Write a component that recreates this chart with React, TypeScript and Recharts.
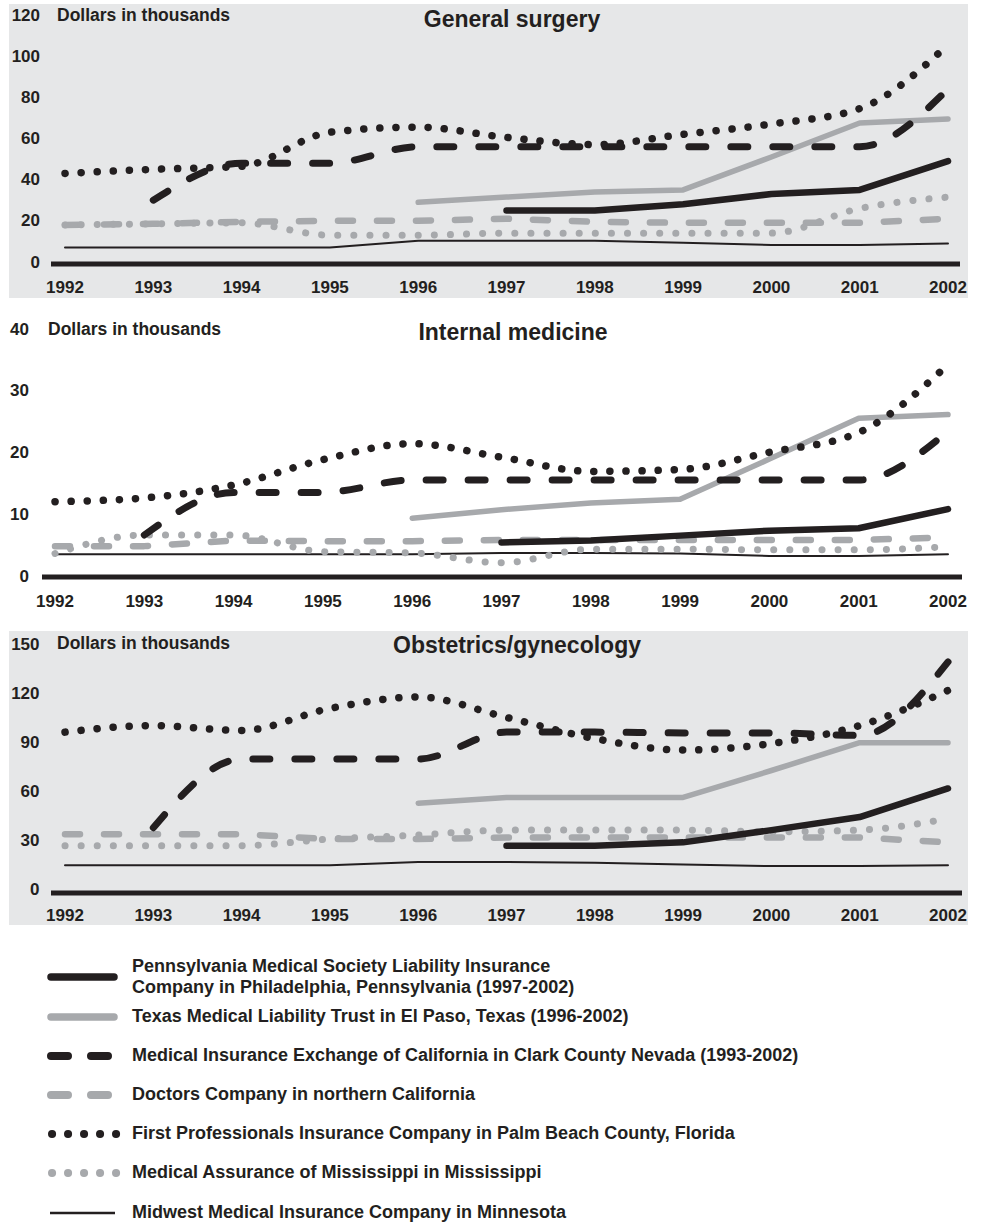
import React from 'react';
import { LineChart, Line, XAxis, YAxis } from 'recharts';

const INK = '#231f20';
const GRAY = '#a7a9ac';
const PANEL_BG = '#e6e7e8';
const FONT = '"Liberation Sans", Arial, Helvetica, sans-serif';

const years = [1992, 1993, 1994, 1995, 1996, 1997, 1998, 1999, 2000, 2001, 2002];

// General surgery (dollars in thousands)
const surgeryPennsylvania = [null, null, null, null, null, 26, 26, 29, 34, 36, 50];
const surgeryTexas = [null, null, null, null, 30, 32.5, 35, 36, 52, 68.5, 70.5];
const surgeryMie = [null, 31, 49, 49, 57, 57, 57, 57, 57, 57, 85];
const surgeryDoctors = [19, 19.5, 20.5, 21, 21, 22, 20.5, 20, 20, 20, 22];
const surgeryFirstProf = [44, 46, 47.5, 64, 66.5, 61.5, 58, 63, 68, 75.5, 106.5];
const surgeryMississippi = [19, 19.5, 20, 14, 14, 15, 15, 15, 15, 27, 32.5];
const surgeryMinnesota = [8, 8, 8, 8, 11.3, 11.3, 11.3, 10.3, 9.2, 9.2, 10];

// Internal medicine
const internalPennsylvania = [null, null, null, null, null, 5.6, 5.9, 6.7, 7.5, 7.9, 11];
const internalTexas = [null, null, null, null, 9.5, 10.9, 12, 12.6, 19.1, 25.7, 26.3];
const internalMie = [null, 6.8, 13.7, 13.7, 15.7, 15.7, 15.7, 15.7, 15.7, 15.7, 23.6];
const internalDoctors = [5, 5, 5.9, 5.8, 5.8, 6, 6, 6, 6, 6, 6.4];
const internalFirstProf = [12.2, 12.8, 14.9, 19, 21.6, 19.4, 17.1, 17.4, 20.2, 23.4, 34.4];
const internalMississippi = [3.8, 6.8, 6.8, 4.1, 3.9, 2.3, 4.5, 4.5, 4.4, 4.4, 4.9];
const internalMinnesota = [3.7, 3.7, 3.7, 3.7, 3.7, 3.9, 3.9, 3.8, 3.4, 3.4, 3.7];

// Obstetrics/gynecology
const obPennsylvania = [null, null, null, null, null, 29, 29, 31, 38.5, 46.5, 64];
const obTexas = [null, null, null, null, 55, 58.5, 58.5, 58.5, 75, 92, 92];
const obMie = [null, 40, 82, 82, 82, 98.5, 98.5, 98, 98, 96.5, 141.5];
const obDoctors = [36, 36, 36, 33, 33, 34, 34, 34, 34, 34, 31];
const obFirstProf = [98.5, 102.5, 99.5, 113, 120, 107.5, 94.5, 87.5, 91.5, 102.5, 124];
const obMississippi = [29, 29, 29, 33, 35.5, 38.5, 38.5, 38.5, 37.5, 38.5, 45.5];
const obMinnesota = [17, 17, 17, 17, 19, 19, 18.5, 17.5, 16.5, 16.5, 17];

const surgeryTicks = [0, 20, 40, 60, 80, 100, 120];
const internalTicks = [0, 10, 20, 30, 40];
const obTicks = [0, 30, 60, 90, 120, 150];

const legendKeys = ['pennsylvania', 'texas', 'mie', 'doctors', 'firstProf', 'mississippi', 'minnesota'];
const legendLabels = [
  ['Pennsylvania Medical Society Liability Insurance', 'Company in Philadelphia, Pennsylvania (1997-2002)'],
  ['Texas Medical Liability Trust in El Paso, Texas (1996-2002)'],
  ['Medical Insurance Exchange of California in Clark County Nevada (1993-2002)'],
  ['Doctors Company in northern California'],
  ['First Professionals Insurance Company in Palm Beach County, Florida'],
  ['Medical Assurance of Mississippi in Mississippi'],
  ['Midwest Medical Insurance Company in Minnesota'],
];

function buildRows(s: Record<string, (number | null)[]>) {
  return years.map((year, i) => {
    const row: any = { year };
    Object.keys(s).forEach((k) => (row[k] = s[k][i]));
    return row;
  });
}

const surgeryRows = buildRows({
  pennsylvania: surgeryPennsylvania, texas: surgeryTexas, mie: surgeryMie, doctors: surgeryDoctors,
  firstProf: surgeryFirstProf, mississippi: surgeryMississippi, minnesota: surgeryMinnesota,
});
const internalRows = buildRows({
  pennsylvania: internalPennsylvania, texas: internalTexas, mie: internalMie, doctors: internalDoctors,
  firstProf: internalFirstProf, mississippi: internalMississippi, minnesota: internalMinnesota,
});
const obRows = buildRows({
  pennsylvania: obPennsylvania, texas: obTexas, mie: obMie, doctors: obDoctors,
  firstProf: obFirstProf, mississippi: obMississippi, minnesota: obMinnesota,
});

// drawing order: light / thin first, heavy black on top
const lineStyles: Record<string, any> = {
  minnesota: { stroke: INK, strokeWidth: 2, type: 'linear' },
  doctors: { stroke: GRAY, strokeWidth: 6.5, dash: '15 24', type: 'linear' },
  mississippi: { stroke: GRAY, strokeWidth: 7, dash: '0.1 16', type: 'monotone' },
  texas: { stroke: GRAY, strokeWidth: 5.5, type: 'linear' },
  pennsylvania: { stroke: INK, strokeWidth: 6.5, type: 'linear' },
  mie: { stroke: INK, strokeWidth: 7, dash: '17 25', type: 'monotone' },
  firstProf: { stroke: INK, strokeWidth: 7.5, dash: '0.1 16', type: 'monotone' },
};

function Caption({ x, y, size, center, children }: any) {
  return (
    <div
      style={{
        position: 'absolute',
        left: center ? x - 300 : x,
        width: center ? 600 : undefined,
        top: y - size * 0.59,
        fontSize: size,
        lineHeight: `${size * 1.2}px`,
        fontWeight: 'bold',
        fontFamily: FONT,
        color: INK,
        textAlign: center ? 'center' : 'left',
        whiteSpace: 'nowrap',
      }}
    >
      {children}
    </div>
  );
}

function Panel(p: any) {
  const xTick = (t: any) => (
    <text x={t.x} y={t.y} textAnchor="middle" dominantBaseline="central"
      fontSize={17} fontWeight="bold" fill={INK} fontFamily={FONT}>
      {t.payload.value}
    </text>
  );
  const yTick = (t: any) => (
    <text x={t.x} y={t.y + p.yShift} textAnchor="end" dominantBaseline="central"
      fontSize={17} fontWeight="bold" fill={INK} fontFamily={FONT}>
      {t.payload.value}
    </text>
  );
  return (
    <div style={{ position: 'absolute', left: p.left, top: p.top, width: p.width, height: p.height, background: p.bg }}>
      <LineChart width={p.width} height={p.height} data={p.rows} margin={{ top: p.mTop, right: p.mRight, bottom: 0, left: 0 }}>
        <XAxis
          dataKey="year"
          type="number"
          domain={[1992, 2002]}
          ticks={years}
          interval={0}
          height={p.xHeight}
          padding={{ left: p.padL, right: p.padR }}
          axisLine={{ stroke: INK, strokeWidth: 5 }}
          tickLine={false}
          tickSize={0}
          tickMargin={p.xGap}
          tick={xTick}
        />
        <YAxis
          type="number"
          domain={[0, p.yMax]}
          ticks={p.yTicks}
          interval={0}
          width={42}
          axisLine={false}
          tickLine={false}
          tickSize={0}
          tickMargin={p.yGap}
          tick={yTick}
        />
        {Object.keys(lineStyles).map((k) => {
          const s = lineStyles[k];
          return (
            <Line
              key={k}
              dataKey={k}
              type={s.type}
              stroke={s.stroke}
              strokeWidth={s.strokeWidth}
              strokeDasharray={s.dash}
              strokeLinecap="round"
              strokeLinejoin="round"
              dot={false}
              activeDot={false}
              isAnimationActive={false}
            />
          );
        })}
      </LineChart>
    </div>
  );
}

const LEGEND_Y = [977, 1017, 1056, 1095, 1134, 1173, 1213];

function LegendSample({ k, y }: any) {
  const s = lineStyles[k];
  if (k === 'mie' || k === 'doctors') {
    return <line x1={51} x2={111} y1={y} y2={y} stroke={s.stroke} strokeWidth={8} strokeLinecap="round" strokeDasharray="17 23" />;
  }
  if (k === 'firstProf' || k === 'mississippi') {
    return <line x1={52} x2={117} y1={y} y2={y} stroke={s.stroke} strokeWidth={8} strokeLinecap="round" strokeDasharray="0.1 15.9" />;
  }
  if (k === 'minnesota') {
    return <line x1={50} x2={115} y1={y} y2={y} stroke={INK} strokeWidth={2.5} />;
  }
  return <line x1={51} x2={114} y1={y} y2={y} stroke={s.stroke} strokeWidth={7.5} strokeLinecap="round" />;
}

export default function App() {
  return (
    <div style={{ position: 'absolute', left: 0, top: 0, width: 982, height: 1224, background: '#fff', fontFamily: FONT }}>
      <Panel rows={surgeryRows} left={9} top={4} width={959} height={294} bg={PANEL_BG}
        mTop={13} mRight={8} xHeight={34} padL={14} padR={12} xGap={23}
        yMax={120} yTicks={surgeryTicks} yGap={11} yShift={-2} />
      <Caption x={57} y={15} size={17.5}>Dollars in thousands</Caption>
      <Caption x={512} y={20} size={23} center>General surgery</Caption>

      <Panel rows={internalRows} left={0} top={300} width={982} height={310} bg="transparent"
        mTop={30} mRight={20} xHeight={33} padL={13} padR={14} xGap={24}
        yMax={40} yTicks={internalTicks} yGap={13} yShift={-1} />
      <Caption x={48} y={329} size={17.5}>Dollars in thousands</Caption>
      <Caption x={513} y={333} size={23} center>Internal medicine</Caption>

      <Panel rows={obRows} left={9} top={631} width={959} height={294} bg={PANEL_BG}
        mTop={17} mRight={6} xHeight={32} padL={14} padR={14} xGap={22}
        yMax={150} yTicks={obTicks} yGap={11.5} yShift={-4} />
      <Caption x={57} y={643} size={17.5}>Dollars in thousands</Caption>
      <Caption x={517} y={646} size={23} center>Obstetrics/gynecology</Caption>

      <svg style={{ position: 'absolute', left: 0, top: 0 }} width={140} height={1224}>
        {legendKeys.map((k, i) => (
          <LegendSample key={k} k={k} y={LEGEND_Y[i]} />
        ))}
      </svg>
      {legendKeys.map((k, i) => {
        const lines = legendLabels[i];
        if (lines.length === 2) {
          return (
            <React.Fragment key={k}>
              <Caption x={132} y={LEGEND_Y[i] - 10} size={18}>{lines[0]}</Caption>
              <Caption x={132} y={LEGEND_Y[i] + 11} size={18}>{lines[1]}</Caption>
            </React.Fragment>
          );
        }
        return <Caption key={k} x={132} y={LEGEND_Y[i]} size={18}>{lines[0]}</Caption>;
      })}
    </div>
  );
}
